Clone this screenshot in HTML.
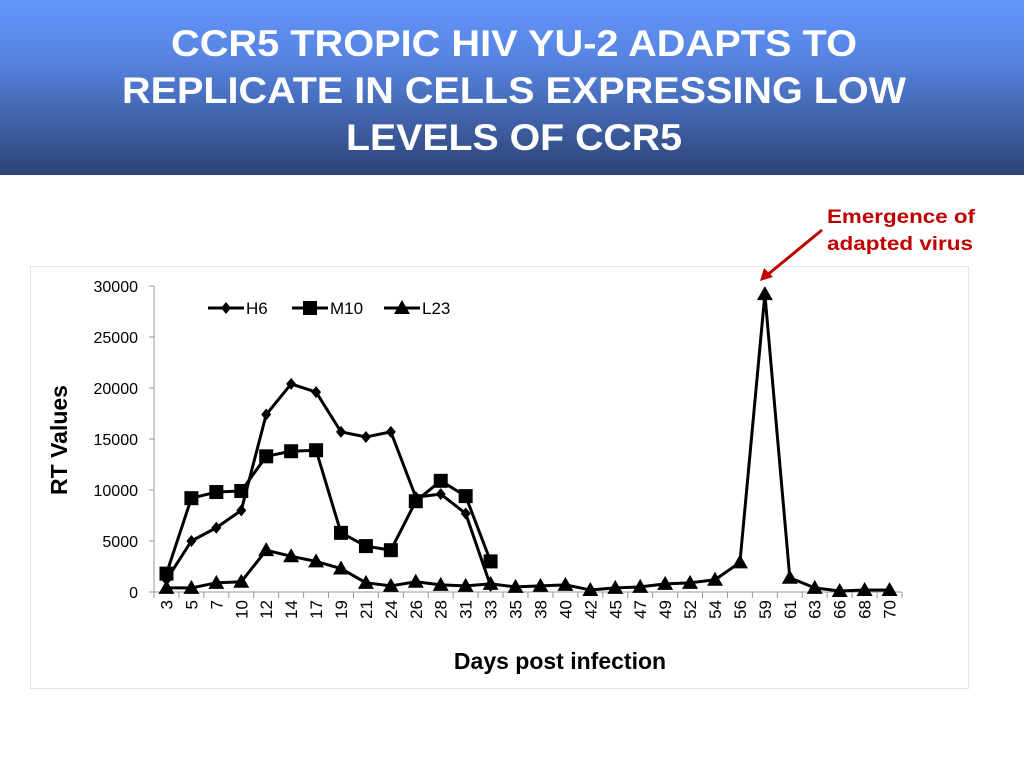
<!DOCTYPE html>
<html><head><meta charset="utf-8"><style>
body{margin:0;width:1024px;height:768px;background:#fff;overflow:hidden;font-family:"Liberation Sans",Arial,sans-serif}
</style></head><body>
<svg width="1024" height="768" xmlns="http://www.w3.org/2000/svg">
<defs><linearGradient id="hg" x1="0" y1="0" x2="0" y2="1"><stop offset="0" stop-color="#6396fb"/><stop offset="0.35" stop-color="#5683e0"/><stop offset="1" stop-color="#2c4374"/></linearGradient></defs>
<rect x="0" y="0" width="1024" height="175" fill="url(#hg)"/>
<g fill="#fff" font-weight="bold" font-size="37" text-anchor="middle" font-family="Liberation Sans, sans-serif">
<text x="514" y="56" textLength="686" lengthAdjust="spacingAndGlyphs">CCR5 TROPIC HIV YU-2 ADAPTS TO</text>
<text x="514" y="103" textLength="784" lengthAdjust="spacingAndGlyphs">REPLICATE IN CELLS EXPRESSING LOW</text>
<text x="514" y="150" textLength="336" lengthAdjust="spacingAndGlyphs">LEVELS OF CCR5</text>
</g>
<rect x="30.5" y="266.5" width="938" height="422" fill="none" stroke="#e4e4e4"/>
<g>
<text x="827" y="223" font-size="19" font-weight="bold" fill="#c00000" textLength="148" lengthAdjust="spacingAndGlyphs">Emergence of</text>
<text x="827" y="250" font-size="19" font-weight="bold" fill="#c00000" textLength="146" lengthAdjust="spacingAndGlyphs">adapted virus</text>
<line x1="822" y1="230" x2="766" y2="276" stroke="#c00000" stroke-width="3"/>
<polygon points="760,281 764,268 773,277" fill="#c00000"/>
</g>
<g id="chart"></g>
</svg>
<script>
const days=[3,5,7,10,12,14,17,19,21,24,26,28,31,33,35,38,40,42,45,47,49,52,54,56,59,61,63,66,68,70];
const h6=[1200,5000,6300,8000,17400,20400,19600,15700,15200,15700,9300,9600,7700,600];
const m10=[1800,9200,9800,9900,13300,13800,13900,5800,4500,4100,8900,10900,9400,3000];
const l23=[400,400,900,1000,4100,3500,3000,2300,900,600,1000,700,600,800,500,600,700,200,400,500,800,900,1200,2900,29200,1400,400,100,200,200];
const yTicks=[0,5000,10000,15000,20000,25000,30000];
const NS="http://www.w3.org/2000/svg";
const g=document.getElementById('chart');
const X0=154,X1=902,Y0=592,Y1=286,step=(X1-X0)/days.length;
const xs=i=>X0+step*(i+0.5);
const ys=v=>Y0-(v/30000)*(Y0-Y1);
function mk(t,a,p){const e=document.createElementNS(NS,t);for(const k in a)e.setAttribute(k,a[k]);(p||g).appendChild(e);return e;}
// axes
let ax=mk('line',{x1:X0,y1:Y1,x2:X0,y2:Y0,stroke:'#999'});


let bx=mk('line',{x1:X0,y1:Y0,x2:X1,y2:Y0,stroke:'#999'});


yTicks.forEach(v=>{
 mk('line',{x1:X0-5,y1:ys(v),x2:X0,y2:ys(v),stroke:'#999'});
 const t=mk('text',{x:138,y:ys(v)+6,'text-anchor':'end','font-size':16,fill:'#000'});t.textContent=v;
 
 
});
days.forEach((d,i)=>{
 mk('line',{x1:X0+step*i,y1:Y0,x2:X0+step*i,y2:Y0+6,stroke:'#999'});
 const x=xs(i)+6,y=Y0+8;
 const t=mk('text',{x:x,y:y,'text-anchor':'end','font-size':17,fill:'#000',transform:`rotate(-90 ${x} ${y})`});t.textContent=d;
 
 
});
mk('line',{x1:X1,y1:Y0,x2:X1,y2:Y0+6,stroke:'#999'});
let yt=mk('text',{x:67,y:440,'text-anchor':'middle','font-size':23,'font-weight':'bold',transform:'rotate(-90 67 440)'});yt.textContent='RT Values';


let xt=mk('text',{x:560,y:669,'text-anchor':'middle','font-size':23,'font-weight':'bold'});xt.textContent='Days post infection';


function marker(type,x,y,p){
 if(type==='d')return mk('polygon',{points:`${x},${y-6} ${x+5},${y} ${x},${y+6} ${x-5},${y}`,fill:'#000'},p);
 if(type==='s')return mk('rect',{x:x-7,y:y-7,width:14,height:14,fill:'#000'},p);
 return mk('polygon',{points:`${x},${y-8} ${x+8},${y+6} ${x-8},${y+6}`,fill:'#000'},p);
}
function series(name,vals,type){
 const s=mk('g',{});
 
 
 const pts=vals.map((v,i)=>xs(i)+','+ys(v)).join(' ');
 mk('polyline',{points:pts,fill:'none',stroke:'#000','stroke-width':3,'stroke-linejoin':'round'},s);
 vals.forEach((v,i)=>{const m=marker(type,xs(i),ys(v),s);
  
  });
}
series('h6',h6,'d');series('m10',m10,'s');series('l23',l23,'t');
// legend
const lg=mk('g',{});


[['H6','d',208],['M10','s',292],['L23','t',384]].forEach(([n,t,x])=>{
 const e=mk('g',{},lg);
 
 
 mk('line',{x1:x,y1:308,x2:x+36,y2:308,stroke:'#000','stroke-width':3},e);
 marker(t,x+18,308,e);
 const tx=mk('text',{x:x+38,y:314,'font-size':17},e);tx.textContent=n;
});
</script>
</body></html>
